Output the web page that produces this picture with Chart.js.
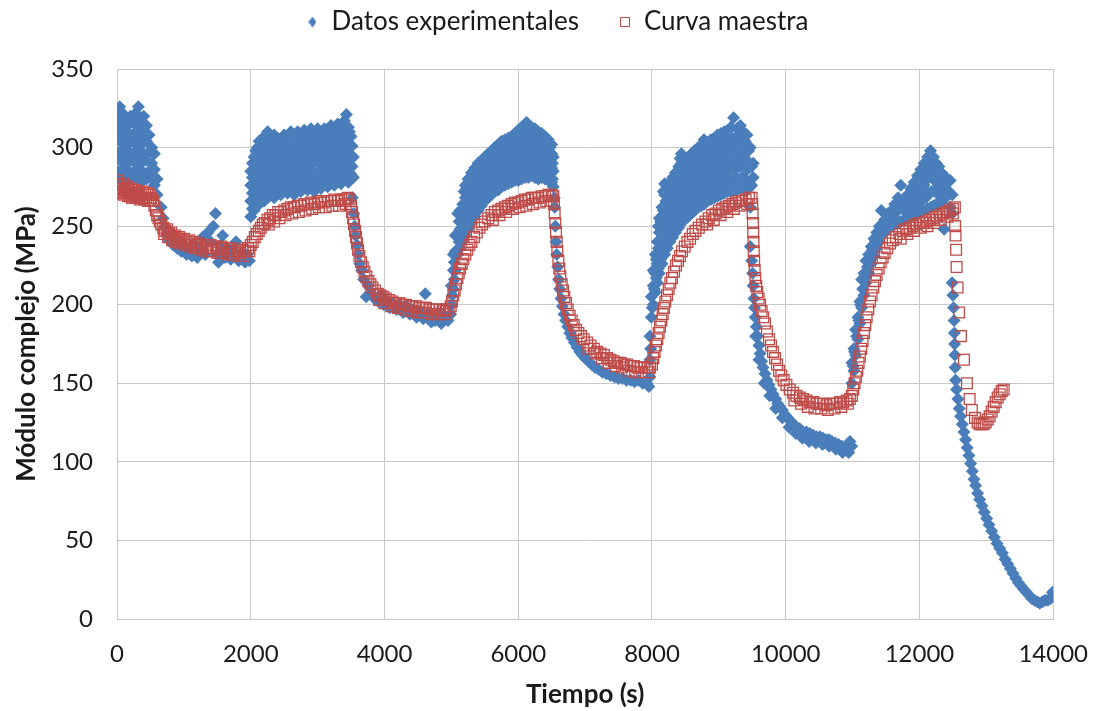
<!DOCTYPE html>
<html>
<head>
<meta charset="utf-8">
<script src="https://cdn.jsdelivr.net/npm/chart.js@4.4.1/dist/chart.umd.min.js"></script>
<style>
  html, body { margin: 0; padding: 0; background: #fff; }
  #wrap { width: 1109px; height: 711px; position: relative; }
</style>
</head>
<body>
<div id="wrap"><canvas id="modChart"></canvas></div>
<script>
// Datos experimentales: [tiempo (s), modulo (MPa)]
const expPoints = [
  // 0 - 650 s
  [0,285],[0,297],[0,310],[0,322],[40,280],[40,292],[40,304],[40,316],[40,326],[80,286],[80,298],[80,310],[80,322],
  [120,282],[120,294],[120,306],[120,318],[160,278],[160,290],[160,302],[160,314],[200,284],[200,296],[200,308],[200,320],
  [240,280],[240,292],[240,304],[240,316],[280,286],[280,298],[280,310],[280,322],[320,282],[320,294],[320,306],[320,318],[320,326],
  [360,278],[360,290],[360,302],[360,314],[400,284],[400,296],[400,308],[400,320],[440,280],[440,292],[440,304],[440,314],
  [480,285],[480,297],[480,308],[520,280],[520,290],[520,300],[560,276],[560,286],[560,296],[600,270],[600,280],
  // 650 - 2000 s
  [660,262],[690,255],[720,250],[750,244],[780,241],[810,246],[840,238],[870,243],[900,236],[930,240],[960,234],[1000,238],
  [1040,232],[1080,236],[1120,231],[1160,238],[1200,230],[1240,236],[1280,243],[1320,232],[1360,246],[1400,240],[1440,250],
  [1473,258],[1500,232],[1517,227],[1550,238],[1580,244],[1620,230],[1660,236],[1700,229],[1740,234],[1780,240],[1820,228],
  [1860,233],[1900,230],[1915,227],[1950,232],[1980,228],
  // 2000 - 3550 s
  [2000,256],[2000,266],[2000,276],[2000,285],[2050,260],[2050,272],[2050,283],[2050,294],[2100,263],[2100,275],[2100,288],[2100,300],
  [2150,265],[2150,278],[2150,290],[2150,302],[2200,266],[2200,280],[2200,292],[2200,304],[2253,268],[2253,283],[2253,296],[2253,310],
  [2300,270],[2300,282],[2300,295],[2300,305],[2350,268],[2350,279],[2350,290],[2350,300],[2350,308],[2400,272],[2400,284],[2400,296],[2400,306],
  [2450,270],[2450,281],[2450,292],[2450,303],[2500,273],[2500,285],[2500,297],[2500,308],[2550,271],[2550,283],[2550,295],[2550,305],
  [2600,274],[2600,286],[2600,298],[2600,310],[2650,270],[2650,282],[2650,293],[2650,304],[2700,275],[2700,287],[2700,299],[2700,310],
  [2750,272],[2750,284],[2750,296],[2750,306],[2800,276],[2800,288],[2800,300],[2800,311],[2850,273],[2850,285],[2850,297],[2850,308],
  [2900,277],[2900,289],[2900,301],[2900,312],[2950,272],[2950,283],[2950,294],[2950,305],[3000,278],[3000,290],[3000,302],[3000,312],
  [3050,274],[3050,286],[3050,298],[3050,309],[3100,279],[3100,291],[3100,303],[3100,312],[3150,275],[3150,287],[3150,299],[3150,310],
  [3200,280],[3200,292],[3200,304],[3200,314],[3250,276],[3250,288],[3250,300],[3250,311],[3300,281],[3300,293],[3300,305],[3300,315],
  [3350,277],[3350,289],[3350,301],[3350,312],[3400,282],[3400,294],[3400,306],[3400,317],[3430,321],[3430,300],
  [3460,278],[3460,290],[3460,303],[3460,313],[3500,283],[3500,295],[3500,307],[3535,281],[3535,294],
  [2025,261],[2025,271],[2025,281],[2025,290],[2075,267],[2075,278],[2075,289],[2075,298],[2125,269],[2125,282],[2125,294],[2125,304],
  [2175,272],[2175,285],[2175,297],[2175,306],[2225,274],[2225,290],[2225,302],[2275,276],[2275,289],[2275,300],[2275,308],
  [2325,275],[2325,287],[2325,298],[2325,304],[2375,277],[2375,290],[2375,302],[2425,276],[2425,287],[2425,298],
  [2475,278],[2475,290],[2475,302],[2525,277],[2525,289],[2525,300],[2575,279],[2575,292],[2575,304],[2625,278],[2625,290],[2625,299],
  [2675,280],[2675,293],[2675,305],[2725,279],[2725,291],[2725,302],[2775,281],[2775,294],[2775,304],[2825,280],[2825,292],[2825,303],
  [2875,282],[2875,295],[2875,306],[2925,279],[2925,290],[2925,301],[2975,283],[2975,296],[2975,307],[3025,281],[3025,293],[3025,304],
  [3075,284],[3075,297],[3075,307],[3125,282],[3125,294],[3125,305],[3175,285],[3175,298],[3175,309],[3225,283],[3225,295],[3225,306],
  [3275,286],[3275,299],[3275,310],[3325,284],[3325,296],[3325,307],[3375,287],[3375,300],[3375,312],[3425,288],[3425,311],
  [3475,288],[3475,300],[3475,310],[3515,288],[3515,301],
  // 3500 - 5000 s
  [3520,268],[3540,258],[3555,250],[3570,244],[3590,238],[3610,232],[3630,226],[3660,222],[3690,216],[3726,205],[3760,212],[3790,208],
  [3830,205],[3870,203],[3910,202],[3950,206],[3990,200],[4030,203],[4080,198],[4130,201],[4180,197],[4230,200],[4280,195],[4330,199],
  [4380,194],[4430,197],[4480,192],[4530,196],[4580,191],[4610,207],[4650,194],[4700,189],[4757,190],[4800,195],[4850,188],[4900,193],
  [4950,190],[4990,194],
  // 5000 - 6550 s
  [5000,200],[5000,212],[5030,210],[5030,222],[5030,232],[5060,222],[5060,234],[5060,244],[5096,232],[5096,245],[5096,258],
  [5130,236],[5130,248],[5130,260],[5170,240],[5170,252],[5170,264],[5210,244],[5210,256],[5210,268],[5210,276],
  [5250,248],[5250,260],[5250,272],[5250,280],[5300,252],[5300,264],[5300,274],[5300,284],[5350,256],[5350,268],[5350,278],[5350,287],
  [5400,260],[5400,271],[5400,281],[5400,290],[5450,263],[5450,274],[5450,284],[5450,292],[5500,266],[5500,277],[5500,287],[5500,294],
  [5550,268],[5550,279],[5550,289],[5550,296],[5600,270],[5600,281],[5600,290],[5600,298],[5650,272],[5650,283],[5650,292],[5650,300],
  [5700,273],[5700,284],[5700,294],[5700,302],[5750,275],[5750,286],[5750,296],[5750,304],[5800,276],[5800,287],[5800,297],[5800,305],
  [5850,277],[5850,288],[5850,298],[5850,306],[5900,278],[5900,289],[5900,299],[5900,307],[5950,279],[5950,290],[5950,300],[5950,309],
  [6000,279],[6000,291],[6000,302],[6000,311],[6050,280],[6050,292],[6050,303],[6050,313],[6100,281],[6100,293],[6100,304],[6100,315],
  [6127,316],[6150,281],[6150,294],[6150,305],[6150,314],[6200,282],[6200,294],[6200,305],[6200,313],[6250,281],[6250,293],[6250,304],[6250,312],
  [6300,280],[6300,292],[6300,303],[6300,310],[6350,281],[6350,292],[6350,302],[6350,309],[6400,280],[6400,291],[6400,300],[6400,307],
  [6450,279],[6450,289],[6450,298],[6450,305],[6500,278],[6500,287],[6500,296],[6500,302],[6524,275],[6524,285],[6524,294],[6540,268],
  [5015,206],[5045,216],[5045,227],[5080,233],[5080,245],[5115,240],[5115,253],[5150,244],[5150,256],[5190,248],[5190,260],[5190,272],
  [5230,252],[5230,264],[5230,274],[5275,256],[5275,267],[5275,277],[5325,260],[5325,271],[5325,281],[5375,264],[5375,274],[5375,284],
  [5425,267],[5425,278],[5425,287],[5475,270],[5475,280],[5475,289],[5525,272],[5525,283],[5525,292],[5575,274],[5575,285],[5575,293],
  [5625,276],[5625,286],[5625,295],[5675,278],[5675,288],[5675,297],[5725,280],[5725,290],[5725,299],[5775,281],[5775,292],[5775,300],
  [5825,282],[5825,293],[5825,301],[5875,283],[5875,294],[5875,302],[5925,284],[5925,295],[5925,304],[5975,285],[5975,296],[5975,305],
  [6025,285],[6025,297],[6025,307],[6075,286],[6075,298],[6075,309],[6125,287],[6125,299],[6125,310],[6175,288],[6175,300],[6175,310],
  [6225,288],[6225,299],[6225,308],[6275,286],[6275,298],[6275,307],[6325,286],[6325,297],[6325,306],[6375,286],[6375,296],[6375,304],
  [6425,285],[6425,294],[6425,302],[6475,283],[6475,292],[6475,300],[6512,280],[6512,290],
  // 6550 - 8000 s
  [6545,262],[6555,250],[6565,240],[6575,232],[6590,224],[6605,216],[6620,210],[6640,204],[6660,199],[6685,194],[6710,190],[6740,186],
  [6770,182],[6800,179],[6840,176],[6880,173],[6920,170],[6960,168],[7000,166],[7050,164],[7100,162],[7150,160],[7200,159],[7260,157],
  [7320,156],[7380,155],[7440,154],[7500,153],[7560,153],[7620,152],[7680,152],[7740,151],[7800,152],[7860,150],[7920,150],[7953,148],[7970,154],
  // 8000 - 9550 s
  [7970,165],[7970,180],[7990,192],[7990,205],[8020,200],[8020,212],[8020,222],[8050,208],[8050,220],[8050,232],[8080,214],[8080,226],[8080,240],
  [8110,220],[8110,232],[8110,246],[8110,255],[8150,226],[8150,238],[8150,250],[8150,262],[8190,232],[8190,245],[8190,258],[8190,270],[8190,277],
  [8230,236],[8230,249],[8230,262],[8230,274],[8270,240],[8270,253],[8270,266],[8270,278],[8310,243],[8310,256],[8310,269],[8310,281],
  [8350,246],[8350,259],[8350,272],[8350,284],[8400,249],[8400,262],[8400,275],[8400,288],[8440,252],[8440,265],[8440,278],[8440,290],[8440,296],
  [8490,254],[8490,267],[8490,280],[8490,292],[8540,256],[8540,269],[8540,282],[8540,294],[8590,258],[8590,271],[8590,284],[8590,296],
  [8640,260],[8640,273],[8640,286],[8640,298],[8690,262],[8690,275],[8690,288],[8690,300],[8740,263],[8740,276],[8740,289],[8740,301],
  [8778,264],[8778,278],[8778,291],[8778,305],[8830,266],[8830,279],[8830,292],[8830,303],[8880,267],[8880,280],[8880,293],[8880,305],
  [8930,268],[8930,281],[8930,294],[8930,306],[8980,269],[8980,282],[8980,295],[8980,308],[9030,270],[9030,283],[9030,296],[9030,309],
  [9080,271],[9080,284],[9080,297],[9080,310],[9130,272],[9130,285],[9130,298],[9130,311],[9180,272],[9180,286],[9180,299],[9180,313],
  [9220,273],[9220,287],[9220,300],[9220,319],[9270,273],[9270,287],[9270,300],[9270,312],[9320,274],[9320,288],[9320,301],[9320,314],
  [9370,274],[9370,288],[9370,300],[9370,310],[9420,273],[9420,286],[9420,298],[9420,308],[9470,262],[9470,275],[9470,288],[9470,300],
  [9514,281],[9514,290],
  [7980,172],[8005,198],[8035,210],[8035,221],[8065,217],[8065,229],[8095,223],[8095,236],[8095,250],[8130,229],[8130,241],[8130,253],
  [8170,235],[8170,248],[8170,260],[8170,272],[8210,240],[8210,253],[8210,266],[8210,276],[8250,244],[8250,257],[8250,270],
  [8290,248],[8290,261],[8290,273],[8330,251],[8330,264],[8330,276],[8375,254],[8375,267],[8375,280],[8420,257],[8420,270],[8420,283],[8420,293],
  [8465,260],[8465,272],[8465,285],[8515,262],[8515,274],[8515,287],[8565,264],[8565,276],[8565,289],[8615,266],[8615,278],[8615,291],
  [8665,268],[8665,280],[8665,293],[8715,269],[8715,282],[8715,294],[8760,270],[8760,283],[8760,296],[8805,272],[8805,285],[8805,298],
  [8855,273],[8855,286],[8855,298],[8905,274],[8905,287],[8905,300],[8955,275],[8955,288],[8955,301],[9005,276],[9005,289],[9005,302],
  [9055,277],[9055,290],[9055,303],[9105,278],[9105,291],[9105,304],[9155,279],[9155,292],[9155,305],[9200,279],[9200,293],[9200,306],
  [9245,280],[9245,293],[9245,306],[9295,280],[9295,294],[9295,307],[9345,281],[9345,294],[9345,306],[9395,280],[9395,293],[9395,304],
  [9445,274],[9445,287],[9445,298],[9490,276],[9490,288],
  // 9500 - 11000 s
  [9470,237],[9490,228],[9505,220],[9514,212],[9525,204],[9535,198],[9544,192],[9560,186],[9580,180],[9600,174],[9617,169],[9640,164],
  [9660,160],[9690,156],[9720,152],[9750,149],[9780,146],[9810,143],[9850,140],[9880,137],[9912,135],[9950,133],[9990,130],[10030,128],
  [10070,126],[10120,124],[10162,122],[10210,121],[10260,119],[10310,119],[10360,118],[10410,117],[10460,116],[10510,116],[10560,115],
  [10610,114],[10648,114],[10690,113],[10740,112],[10790,111],[10840,110],[10890,108],[10942,106],[10987,110],[10960,113],
  [9550,180],[9600,165],[9680,150],[9760,142],[9850,134],[9950,128],[10050,122],[10150,118],[10250,115],[10350,113],[10450,112],
  [10550,111],[10650,110],[10750,108],[10850,106],
  // 11000 - 12550 s
  [10990,150],[10990,163],[11020,158],[11020,172],[11045,168],[11045,184],[11080,178],[11080,192],[11110,188],[11110,202],
  [11135,198],[11135,216],[11170,206],[11170,220],[11200,214],[11200,228],[11240,220],[11240,232],[11280,226],[11280,237],
  [11320,231],[11320,242],[11360,236],[11360,246],[11400,240],[11400,250],[11430,244],[11430,260],[11480,246],[11480,254],
  [11530,248],[11530,258],[11580,250],[11580,260],[11630,251],[11630,264],[11680,252],[11680,268],[11720,253],[11720,276],
  [11770,254],[11770,266],[11820,255],[11820,262],[11820,270],[11870,256],[11870,266],[11870,274],[11920,257],[11920,268],[11920,278],
  [11970,258],[11970,270],[11970,282],[12020,259],[12020,272],[12020,286],[12070,260],[12070,276],[12070,290],[12120,261],[12120,280],[12120,294],
  [12165,262],[12165,285],[12165,298],[12210,263],[12210,282],[12210,294],[12250,264],[12250,278],[12250,290],[12290,264],[12290,276],[12290,288],
  [12330,265],[12330,275],[12330,284],[12370,248],[12370,270],[12370,282],[12415,269],[12415,280],[12460,279],[12460,262],[12490,258],[12490,270],
  [11010,161],[11030,170],[11060,180],[11095,190],[11120,200],[11150,210],[11185,217],[11220,224],[11260,230],[11300,235],
  [11340,240],[11380,244],[11415,249],[11455,251],[11505,252],[11555,254],[11605,256],[11655,259],[11700,262],[11745,262],
  [11795,259],[11795,266],[11845,261],[11845,269],[11895,262],[11895,272],[11945,264],[11945,275],[11995,265],[11995,278],
  [12045,267],[12045,281],[12095,268],[12095,284],[12140,271],[12140,288],[12185,272],[12185,290],[12230,272],[12230,287],
  [12270,271],[12270,284],[12310,270],[12310,281],[12350,268],[12350,278],[12395,274],[12440,272],
  // 12500 - 14000 s
  [12489,214],[12500,206],[12510,198],[12518,190],[12522,182],[12526,175],[12530,168],[12533,160],[12540,152],[12555,146],[12575,140],
  [12595,134],[12615,129],[12640,124],[12665,119],[12690,114],[12715,109],[12740,104],[12765,99],[12790,94],[12815,89],[12840,85],
  [12870,80],[12900,76],[12935,72],[12970,68],[13005,64],[13040,60],[13080,56],[13120,52],[13160,48],[13200,45],[13240,42],[13280,38],
  [13320,35],[13360,32],[13400,29],[13440,26],[13480,23],[13520,21],[13560,19],[13600,17],[13640,15],[13680,13],[13720,12],[13760,11],
  [13800,10],[13840,11],[13880,12],[13920,12],[13960,13],[14000,14],[13990,17]
];

// Curva maestra: [tiempo (s), modulo (MPa)]
const masterPoints = [
  [0,279],[30,276],[60,274],[90,277],[120,273],[150,275],[180,272],[210,274],[240,271],[270,273],[300,271],[330,272],[360,270],
  [390,272],[420,270],[450,271],[480,270],[510,268],[540,266],[560,263],[580,260],[600,257],[620,255],[640,253],[660,251],[690,249],
  [720,247],[750,248],[780,245],[810,246],[840,243],[870,244],[900,242],[930,243],[960,241],[1000,242],[1040,240],[1080,241],
  [1120,239],[1160,240],[1200,238],[1240,239],[1280,237],[1320,238],[1360,236],[1400,238],[1440,236],[1480,237],[1520,235],
  [1560,237],[1600,235],[1640,236],[1680,234],[1720,236],[1760,234],[1800,235],[1840,233],[1880,235],[1920,234],[1960,236],
  [2000,238],[2030,240],[2060,243],[2090,245],[2120,247],[2150,249],[2180,251],[2210,252],[2250,254],[2290,255],[2330,257],
  [2370,257],[2410,259],[2450,259],[2500,260],[2550,261],[2600,262],[2650,262],[2700,263],[2750,263],[2800,264],[2850,264],
  [2900,265],[2950,264],[3000,265],[3050,266],[3100,265],[3150,266],[3200,266],[3250,267],[3300,266],[3350,267],[3400,267],
  [3450,268],[3480,267],
  [3500,263],[3515,259],[3530,255],[3545,251],[3560,247],[3575,243],[3590,239],[3605,235],[3625,231],[3650,227],[3675,224],
  [3700,221],[3730,218],[3760,215],[3790,213],[3820,211],[3860,209],[3900,207],[3940,206],[3980,205],[4020,204],[4070,203],
  [4120,202],[4170,201],[4220,201],[4270,200],[4320,200],[4370,199],[4420,199],[4470,199],[4520,198],[4570,198],[4620,198],
  [4670,197],[4720,197],[4770,197],[4820,197],[4870,196],[4920,197],[4960,197],
  [4990,199],[5010,202],[5030,206],[5050,209],[5070,213],[5090,217],[5110,220],[5130,223],[5155,226],[5180,229],[5210,232],
  [5240,235],[5270,238],[5300,240],[5340,243],[5380,246],[5420,249],[5460,251],[5500,253],[5550,255],[5600,257],[5650,259],
  [5700,260],[5750,261],[5800,262],[5850,263],[5900,264],[5950,265],[6000,265],[6050,266],[6100,267],[6150,267],[6200,268],
  [6250,268],[6300,268],[6350,269],[6400,269],[6450,270],[6500,270],[6525,269],
  [6535,264],[6545,258],[6555,252],[6565,246],[6575,240],[6585,234],[6600,228],[6615,223],[6630,218],[6650,213],[6670,209],
  [6690,205],[6715,201],[6740,197],[6770,193],[6800,190],[6830,187],[6865,184],[6900,182],[6940,180],[6980,178],[7030,176],
  [7080,174],[7130,172],[7180,170],[7230,169],[7280,168],[7330,166],[7380,165],[7430,164],[7480,163],[7530,163],[7580,162],
  [7630,162],[7680,161],[7730,161],[7780,160],[7830,160],[7880,160],[7930,160],[7970,160],
  [8000,162],[8020,166],[8040,170],[8060,174],[8080,178],[8100,182],[8120,186],[8140,190],[8160,194],[8180,198],[8200,202],
  [8225,206],[8250,210],[8275,214],[8300,217],[8330,221],[8360,225],[8390,228],[8420,231],[8450,234],[8490,237],[8530,240],
  [8570,242],[8610,245],[8650,247],[8700,249],[8750,251],[8800,253],[8850,255],[8900,257],[8950,258],[9000,260],[9050,261],
  [9100,262],[9150,263],[9200,264],[9250,265],[9300,266],[9350,266],[9400,267],[9450,268],[9490,268],
  [9500,264],[9505,258],[9510,252],[9514,246],[9518,240],[9522,234],[9528,228],[9536,222],[9546,217],[9560,212],[9575,208],
  [9595,204],[9617,200],[9640,196],[9665,192],[9690,188],[9720,183],[9750,178],[9780,174],[9810,170],[9840,166],[9870,162],
  [9900,158],[9935,155],[9970,152],[10010,149],[10060,146],[10110,144],[10160,142],[10210,141],[10260,140],[10310,139],
  [10360,138],[10410,138],[10460,137],[10510,137],[10560,137],[10610,136],[10660,137],[10710,137],[10760,137],[10810,138],
  [10860,138],[10910,139],[10960,140],
  [10990,142],[11010,146],[11030,150],[11050,154],[11070,158],[11090,163],[11110,167],[11130,172],[11150,177],[11170,182],
  [11190,187],[11210,192],[11235,197],[11260,202],[11285,206],[11310,211],[11335,215],[11360,219],[11390,223],[11420,227],
  [11450,230],[11480,233],[11520,236],[11560,239],[11600,241],[11650,243],[11700,245],[11750,247],[11800,248],[11850,249],
  [11900,250],[11950,251],[12000,252],[12050,252],[12100,253],[12150,254],[12200,255],[12250,256],[12300,257],[12350,258],
  [12400,259],[12450,260],[12500,261],[12530,262],
  [12533,250],[12540,244],[12548,235],[12555,224],[12570,211],[12592,195],[12620,180],[12665,165],[12710,150],[12750,140],
  [12783,133],[12830,128],[12870,125],[12900,124],[12930,124],[12960,124],[12990,125],[13020,127],[13050,129],[13080,132],
  [13110,135],[13140,138],[13170,141],[13200,143],[13230,145],[13260,146],
  // banda inferior de la curva (tramos planos)
  [15,274],[45,271],[75,272],[105,270],[135,271],[165,269],[195,270],[225,268],[255,269],[285,268],[315,269],[345,267],
  [375,268],[405,267],[435,268],[465,266],[495,266],
  [705,245],[765,243],[825,241],[885,240],[945,239],[1020,238],[1100,237],[1180,236],[1260,235],[1340,234],[1420,234],
  [1500,233],[1580,233],[1660,232],[1740,232],[1820,231],[1900,231],[1980,234],
  [2270,251],[2350,253],[2430,255],[2520,257],[2620,258],[2720,259],[2820,260],[2920,261],[3020,262],[3120,262],[3220,263],
  [3320,263],[3420,264],
  [3920,203],[4000,201],[4100,199],[4200,198],[4300,197],[4400,196],[4500,195],[4600,195],[4700,194],[4800,194],[4900,194],
  [5620,254],[5720,257],[5820,259],[5920,261],[6020,262],[6120,263],[6220,264],[6320,265],[6420,266],[6500,266],
  [7050,172],[7150,169],[7250,166],[7350,163],[7450,161],[7550,160],[7650,158],[7750,157],[7850,157],[7950,157],
  [8825,251],[8925,254],[9025,257],[9125,259],[9225,261],[9325,263],[9425,264],
  [10130,139],[10230,137],[10330,135],[10430,134],[10530,134],[10630,133],[10730,134],[10830,135],[10930,137],
  [11720,242],[11820,245],[11920,247],[12020,249],[12120,250],[12220,252],[12320,254],[12420,256],[12500,258]
];

const seriesNames = ['Datos experimentales', 'Curva maestra'];
const xTitle = 'Tiempo (s)';
const yTitle = 'Módulo complejo (MPa)';

const blue = '#4A7EBB';
const red = '#BE4B48';
const gridColor = '#c8c8c8';

Chart.defaults.font.family = 'Lato, "Open Sans", sans-serif';
Chart.defaults.color = '#1a1a1a';

// iconos pequeños para la leyenda
function makeIcon(w, h, draw) {
  const c = document.createElement('canvas');
  c.width = w; c.height = h;
  draw(c.getContext('2d'));
  return c;
}
const diamondIcon = makeIcon(8, 11, g => {
  g.fillStyle = blue;
  g.beginPath();
  g.moveTo(4, 0); g.lineTo(8, 5.5); g.lineTo(4, 11); g.lineTo(0, 5.5);
  g.closePath(); g.fill();
});
const squareIcon = makeIcon(10, 10, g => {
  g.strokeStyle = red;
  g.lineWidth = 1;
  g.strokeRect(0.5, 0.5, 9, 9);
});
const legendIcons = [diamondIcon, squareIcon];

// leyenda: más espacio debajo y centrada en todo el ancho
const legendGap = {
  id: 'legendGap',
  beforeInit(chart) {
    const fit = chart.legend.fit;
    chart.legend.fit = function () {
      fit.call(this);
      this.height = 100;
    };
  },
  afterLayout(chart) {
    chart.legend.right = chart.width + 6;
  }
};

const ctx = document.getElementById('modChart');
new Chart(ctx, {
  type: 'scatter',
  data: {
    datasets: [{
      label: seriesNames[0],
      data: expPoints.map(p => ({x: p[0], y: p[1]})),
      pointStyle: 'rectRot',
      pointRadius: 6.5,
      pointBorderWidth: 0,
      backgroundColor: blue,
      borderColor: blue,
      order: 2
    },
    {
      label: seriesNames[1],
      data: masterPoints.map(p => ({x: p[0], y: p[1]})),
      pointStyle: 'rect',
      pointRadius: 7.6,
      pointBorderWidth: 1.3,
      backgroundColor: 'rgba(255,255,255,0)',
      borderColor: red,
      order: 1
    }]
  },
  options: {
    responsive: true,
    maintainAspectRatio: false,
    animation: false,
    events: [],
    layout: {
      padding: {top: -31, right: 41, bottom: 0, left: 0}
    },
    plugins: {
      tooltip: {enabled: false},
      legend: {
        display: true,
        position: 'top',
        labels: {
          usePointStyle: true,
          boxWidth: 12,
          boxHeight: 12,
          padding: 40,
          font: {size: 26},
          color: '#1a1a1a',
          sort: (a, b) => a.datasetIndex - b.datasetIndex,
          generateLabels(chart) {
            const items = Chart.defaults.plugins.legend.labels.generateLabels(chart);
            items.forEach(it => { it.pointStyle = legendIcons[it.datasetIndex]; });
            return items;
          }
        }
      }
    },
    scales: {
      x: {
        type: 'linear',
        min: 0,
        max: 14000,
        afterFit(scale) { scale.height = 92; },
        ticks: {
          stepSize: 2000,
          padding: 21,
          maxRotation: 0,
          font: {size: 24},
          callback: v => String(v)
        },
        grid: {color: gridColor, drawTicks: false},
        border: {color: gridColor},
        title: {
          display: true,
          text: xTitle,
          font: {size: 26, weight: 'bold'},
          padding: {top: 0, bottom: 1}
        }
      },
      y: {
        min: 0,
        max: 350,
        afterFit(scale) { scale.width = 117; },
        ticks: {
          stepSize: 50,
          padding: 24,
          font: {size: 24}
        },
        grid: {color: gridColor, drawTicks: false},
        border: {color: gridColor},
        title: {
          display: true,
          text: yTitle,
          font: {size: 26, weight: 'bold'},
          padding: {top: 11, bottom: 0}
        }
      }
    }
  },
  plugins: [legendGap]
});
</script>
</body>
</html>
